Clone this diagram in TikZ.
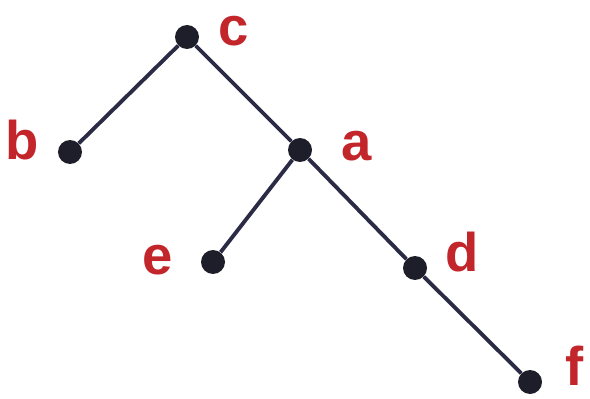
\documentclass[tikz,border=0pt]{standalone}
\usepackage{fontspec}
\setsansfont{Liberation Sans}
\definecolor{dinh}{HTML}{1E1E2A}
\definecolor{canh}{HTML}{2B2B45}
\definecolor{nhan}{HTML}{C2262B}
\tikzset{
  dinh/.style={circle,fill=dinh,minimum size=0.48cm,inner sep=0pt},
  nhan/.style={text=nhan,font=\sffamily\bfseries\fontsize{31}{31}\selectfont,inner sep=0pt},
  canh/.style={draw=canh,line width=2.2pt}
}
\begin{document}
\begin{tikzpicture}[x=0.02cm,y=-0.02cm]
			% Khung
			\useasboundingbox (0,0) rectangle (590,398);
			
			% Các đỉnh
			\node[dinh] (c) at (187,37) {};
			\node[dinh] (b) at (70,152) {};
			\node[dinh] (a) at (300,150) {};
			\node[dinh] (e) at (213,262) {};
			\node[dinh] (d) at (415,268) {};
			\node[dinh] (f) at (530,382) {};
			
			% Các cạnh
			\draw[canh] (c) -- (b);
			\draw[canh] (c) -- (a);
			\draw[canh] (a) -- (e);
			\draw[canh] (a) -- (d);
			\draw[canh] (d) -- (f);
			
			% Nhãn
			\node[nhan] (lc) at (234,31) {c};
			\node[nhan] (lb) at (22,140) {b};
			\node[nhan] (la) at (357,146) {a};
			\node[nhan] (le) at (158,260) {e};
			\node[nhan] (ld) at (462,252) {d};
			\node[nhan] (lf) at (575,366) {f};
		\end{tikzpicture}
\end{document}
